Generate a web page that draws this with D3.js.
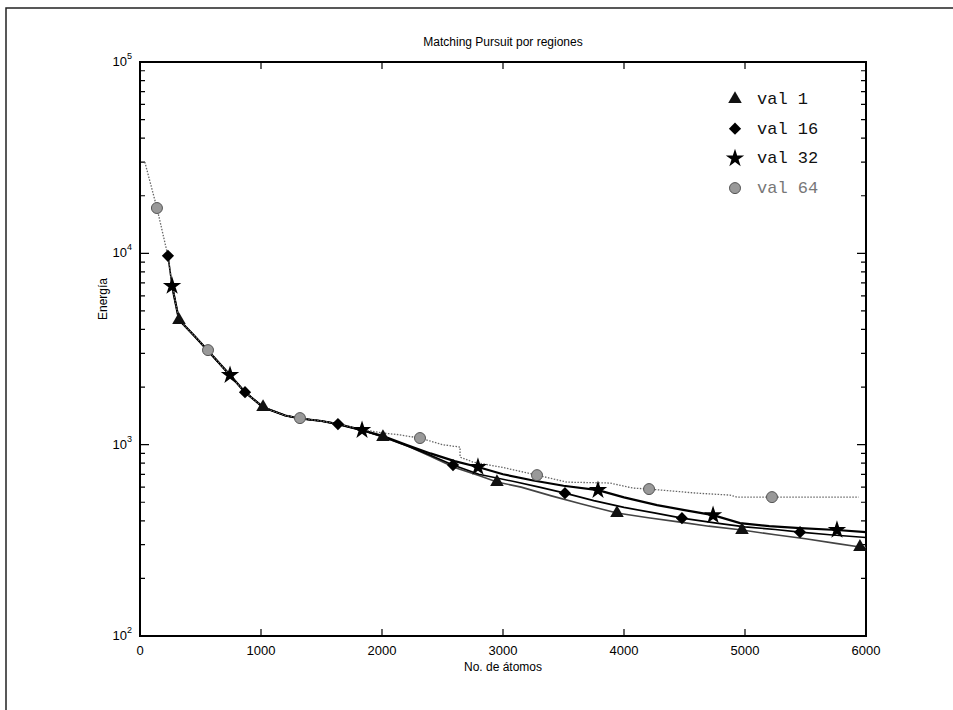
<!DOCTYPE html>
<html>
<head>
<meta charset="utf-8">
<script src="https://cdn.jsdelivr.net/npm/d3@7"></script>
<style>
  body { margin: 0; background: #fff; }
  svg { display: block; }
</style>
</head>
<body>
<script>
// tick values
var xTicks = [0, 1000, 2000, 3000, 4000, 5000, 6000];
var yDecades = [2, 3, 4, 5];

// series: val 1
var val1X = [322, 450, 562, 744, 868, 1017, 1200, 1322, 1500, 1636, 1835, 2008, 2231, 2400, 2600, 2800, 2950, 3150, 3400, 3650, 3942, 4200, 4450, 4700, 4975, 5250, 5500, 5750, 5950, 6000];
var val1Y = [4480, 3700, 3100, 2300, 1880, 1570, 1420, 1370, 1330, 1280, 1190, 1096, 971, 870, 760, 690, 638, 600, 540, 490, 439, 415, 395, 375, 358, 338, 322, 305, 292, 290];
var val1MarkX = [322, 1017, 2008, 2950, 3942, 4975, 5950];
var val1MarkY = [4480, 1570, 1096, 638, 439, 358, 292];

// series: val 16
var val16X = [231, 265, 322, 450, 562, 744, 868, 1017, 1200, 1322, 1500, 1636, 1835, 2008, 2200, 2400, 2587, 2800, 3100, 3300, 3512, 3750, 4000, 4250, 4479, 4750, 5000, 5250, 5455, 5700, 6000];
var val16Y = [9700, 6800, 4500, 3700, 3100, 2300, 1880, 1570, 1420, 1370, 1330, 1282, 1190, 1100, 990, 880, 782, 700, 640, 600, 558, 510, 470, 440, 413, 390, 372, 360, 349, 338, 327];
var val16MarkX = [231, 868, 1636, 2587, 3512, 4479, 5455];
var val16MarkY = [9700, 1880, 1282, 782, 558, 413, 349];

// series: val 32
var val32X = [265, 322, 450, 562, 744, 868, 1017, 1200, 1322, 1500, 1636, 1835, 2008, 2200, 2400, 2600, 2793, 3000, 3250, 3500, 3785, 4000, 4273, 4500, 4736, 4959, 5200, 5455, 5760, 6000];
var val32Y = [6750, 4500, 3700, 3100, 2310, 1880, 1570, 1420, 1370, 1330, 1280, 1192, 1110, 1000, 900, 820, 764, 700, 650, 610, 579, 530, 483, 455, 428, 389, 375, 366, 358, 349];
var val32MarkX = [265, 744, 1835, 2793, 3785, 4736, 5760];
var val32MarkY = [6750, 2310, 1192, 764, 579, 428, 358];

// series: val 64
var val64X = [40, 140, 231, 265, 322, 450, 562, 744, 868, 1017, 1200, 1322, 1500, 1636, 1835, 2008, 2124, 2314, 2500, 2645, 2645, 2752, 3000, 3281, 3529, 3884, 4074, 4207, 4603, 4876, 4934, 5223, 5940];
var val64Y = [30000, 17250, 9700, 6800, 4500, 3700, 3120, 2300, 1880, 1570, 1420, 1377, 1330, 1285, 1200, 1150, 1130, 1083, 1000, 971, 861, 811, 760, 693, 637, 630, 593, 586, 558, 545, 532, 532, 532];
var val64MarkX = [140, 562, 1322, 2314, 3281, 4207, 5223];
var val64MarkY = [17250, 3120, 1377, 1083, 693, 586, 532];

var legendNames = ["val 1", "val 16", "val 32", "val 64"];

var width = 953, height = 710;
var margin = { left: 140, right: 87, top: 62, bottom: 74 };

var svg = d3.select("body").append("svg")
  .attr("width", width)
  .attr("height", height)
  .style("font-family", "'Liberation Sans', Arial, sans-serif");

// scanned page frame
svg.append("path")
  .attr("d", "M6,710 L6,8 L953,8")
  .attr("fill", "none")
  .attr("stroke", "#222")
  .attr("stroke-width", 1.5);

var x = d3.scaleLinear().domain([0, 6000]).range([margin.left, width - margin.right]);
var y = d3.scaleLog().domain([100, 100000]).range([height - margin.bottom, margin.top]);

var x0 = x.range()[0], x1 = x.range()[1];
var y0 = y.range()[0], y1 = y.range()[1];

// minor log ticks
var minorVals = [];
[100, 1000, 10000].forEach(function (d) {
  for (var k = 2; k <= 9; k++) minorVals.push(d * k);
});

var g = svg.append("g");

// x ticks, bottom and top, inward
g.selectAll(".xt").data(xTicks.slice(1, -1)).enter().append("path")
  .attr("d", function (d) {
    return "M" + x(d) + "," + y0 + "v-7 M" + x(d) + "," + y1 + "v7";
  })
  .attr("stroke", "#000").attr("stroke-width", 1.2);

// y ticks
g.selectAll(".ymaj").data(yDecades.slice(1, -1)).enter().append("path")
  .attr("d", function (d) {
    var yy = y(Math.pow(10, d));
    return "M" + x0 + "," + yy + "h9 M" + x1 + "," + yy + "h-9";
  })
  .attr("stroke", "#000").attr("stroke-width", 1.4);

g.selectAll(".ymin").data(minorVals).enter().append("path")
  .attr("d", function (d) {
    return "M" + x0 + "," + y(d) + "h5 M" + x1 + "," + y(d) + "h-5";
  })
  .attr("stroke", "#000").attr("stroke-width", 1.2);

// box
g.append("rect")
  .attr("x", x0).attr("y", y1)
  .attr("width", x1 - x0).attr("height", y0 - y1)
  .attr("fill", "none").attr("stroke", "#000").attr("stroke-width", 2);

// x tick labels
g.selectAll(".xl").data(xTicks).enter().append("text")
  .attr("x", function (d) { return x(d); })
  .attr("y", y0 + 19)
  .attr("text-anchor", "middle")
  .style("font-size", "13px")
  .text(function (d) { return d; });

// y tick labels: 10^n
var yl = g.selectAll(".yl").data(yDecades).enter().append("text")
  .attr("x", x0 - 8)
  .attr("y", function (d) { return y(Math.pow(10, d)) + 4; })
  .attr("text-anchor", "end")
  .style("font-size", "13px");
yl.append("tspan").text("10");
yl.append("tspan").attr("dy", -7).style("font-size", "9px").text(function (d) { return d; });

// titles
svg.append("text")
  .attr("x", (x0 + x1) / 2).attr("y", 46)
  .attr("text-anchor", "middle")
  .style("font-size", "12px")
  .text("Matching Pursuit por regiones");

svg.append("text")
  .attr("x", (x0 + x1) / 2).attr("y", y0 + 35)
  .attr("text-anchor", "middle")
  .style("font-size", "12px")
  .text("No. de átomos");

svg.append("text")
  .attr("transform", "translate(107," + ((y0 + y1) / 2 - 50) + ") rotate(-90)")
  .attr("text-anchor", "middle")
  .style("font-size", "12px")
  .text("Energía");

// lines
var line = d3.line()
  .x(function (d) { return x(d[0]); })
  .y(function (d) { return y(d[1]); });

var series = [
  { xs: val1X, ys: val1Y, mx: val1MarkX, my: val1MarkY, sym: d3.symbolTriangle, size: 80, stroke: "#444", sw: 1.6, dash: null, fill: "#111" },
  { xs: val16X, ys: val16Y, mx: val16MarkX, my: val16MarkY, sym: d3.symbolDiamond2, size: 95, stroke: "#000", sw: 1.6, dash: null, fill: "#000" },
  { xs: val32X, ys: val32Y, mx: val32MarkX, my: val32MarkY, sym: d3.symbolStar, size: 105, stroke: "#000", sw: 2.2, dash: null, fill: "#000" },
  { xs: val64X, ys: val64Y, mx: val64MarkX, my: val64MarkY, sym: d3.symbolCircle, size: 95, stroke: "#666", sw: 1.3, dash: "1.5,1.5", fill: "#999" }
];

series.forEach(function (s) {
  var pts = s.xs.map(function (v, i) { return [v, s.ys[i]]; });
  g.append("path")
    .attr("d", line(pts))
    .attr("fill", "none")
    .attr("stroke", s.stroke)
    .attr("stroke-width", s.sw)
    .attr("stroke-dasharray", s.dash);
});

series.forEach(function (s) {
  var sym = d3.symbol().type(s.sym).size(s.size);
  g.selectAll(null).data(s.mx).enter().append("path")
    .attr("d", sym)
    .attr("transform", function (d, i) { return "translate(" + x(d) + "," + y(s.my[i]) + ")"; })
    .attr("fill", s.fill)
    .attr("stroke", s.sym === d3.symbolCircle ? "#555" : "none")
    .attr("stroke-width", 1);
});

// legend
var lg = svg.append("g").attr("transform", "translate(735,99)");
legendNames.forEach(function (name, i) {
  var s = series[i];
  var sym = d3.symbol().type(s.sym).size(s.size);
  lg.append("path")
    .attr("d", sym)
    .attr("transform", "translate(0," + (i * 29.7) + ")")
    .attr("fill", s.fill)
    .attr("stroke", s.sym === d3.symbolCircle ? "#555" : "none");
  lg.append("text")
    .attr("x", 22).attr("y", i * 29.7 + 5)
    .style("font-family", "'Liberation Mono', 'Courier New', monospace")
    .style("font-size", "17px")
    .attr("fill", i === 3 ? "#777" : "#111")
    .text(name);
});
</script>
</body>
</html>
